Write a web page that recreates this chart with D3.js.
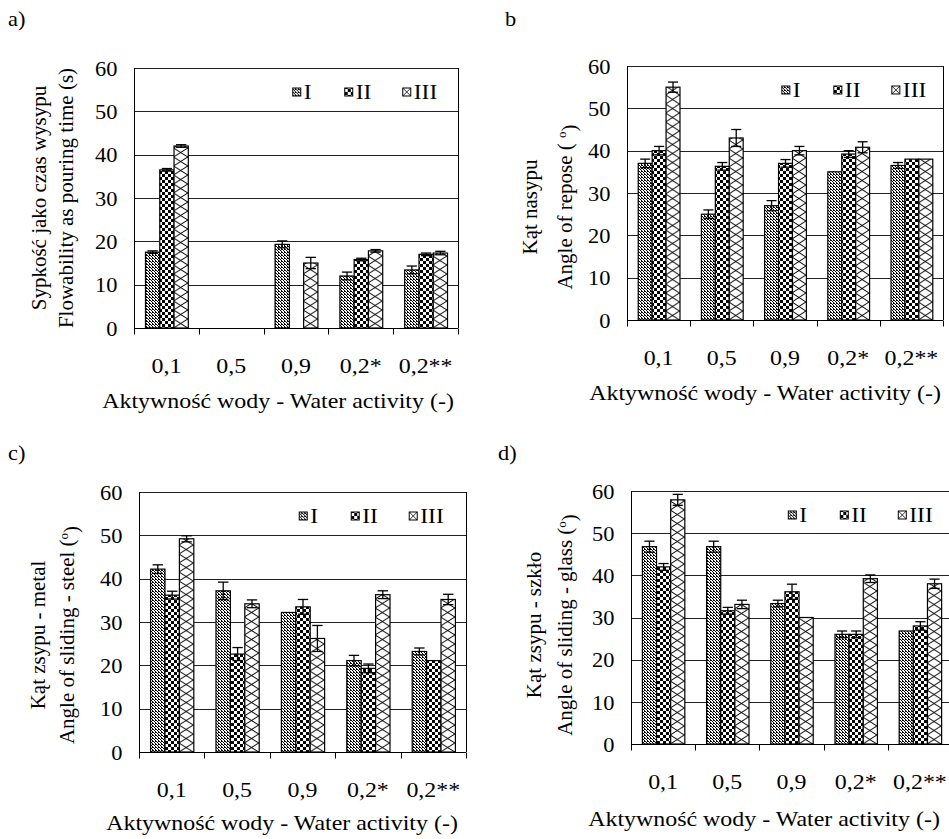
<!DOCTYPE html>
<html><head><meta charset="utf-8">
<script src="https://cdn.jsdelivr.net/npm/d3@7"></script>
<style>
html,body{margin:0;padding:0;background:#fff;}
svg text{font-family:"Liberation Serif","Times New Roman","DejaVu Serif",serif !important;fill:#000;}
</style></head>
<body><svg id="c" width="949" height="839"></svg>
<script>
const categories = ["0,1","0,5","0,9","0,2*","0,2**"];
const seriesNames = ["I","II","III"];
const yTicks = [0,10,20,30,40,50,60];

// a) flowability as pouring time (s)
const aI = [17.5, null, 19.3, 12.0, 13.4];
const aII = [36.5, null, null, 15.8, 17.0];
const aIII = [42.0, null, 15.0, 17.8, 17.3];
const aIErr = [0.3, 0, 0.8, 0.9, 0.9];
const aIIErr = [0.3, 0, 0, 0.3, 0.3];
const aIIIErr = [0.3, 0, 1.3, 0.3, 0.4];

// b) angle of repose
const bI = [37.0, 25.0, 27.0, 35.0, 36.5];
const bII = [40.0, 36.3, 37.0, 39.2, 38.0];
const bIII = [55.0, 43.0, 40.0, 40.8, 38.0];
const bIErr = [1.0, 1.0, 1.2, 0, 0.7];
const bIIErr = [1.0, 0.9, 0.9, 0.8, 0];
const bIIIErr = [1.2, 2.0, 1.0, 1.3, 0];

// c) angle of sliding - steel
const cI = [42.2, 37.2, 32.2, 21.1, 23.2];
const cII = [36.2, 22.6, 33.5, 19.3, 21.1];
const cIII = [49.2, 34.2, 26.2, 36.3, 35.2];
const cIErr = [1.0, 2.0, 0, 1.2, 0.8];
const cIIErr = [0.9, 1.5, 1.7, 1.0, 0];
const cIIIErr = [0.7, 0.9, 3.0, 0.9, 1.2];

// d) angle of sliding - glass
const dI = [46.8, 46.8, 33.3, 26.0, 26.8];
const dII = [42.0, 31.6, 36.1, 26.0, 28.0];
const dIII = [57.9, 33.1, 30.0, 39.2, 38.0];
const dIErr = [1.3, 1.3, 0.8, 0.8, 0];
const dIIErr = [0.8, 0.8, 1.8, 0.8, 1.0];
const dIIIErr = [1.3, 1.0, 0, 0.9, 1.1];

const panels = [
  {id:"a", tag:"a)", tagX:8, tagY:26, L:134, R:458, T:68, B:328,
   vals:[aI,aII,aIII], errs:[aIErr,aIIErr,aIIIErr],
   yTitle:["Sypkość jako czas wysypu","Flowability as pouring time (s)"], deg:false,
   titleX:[46,73], titleY:198, xTitleX:278, xTitleY:408},
  {id:"b", tag:"b", tagX:505, tagY:26, L:627, R:943, T:66, B:320,
   vals:[bI,bII,bIII], errs:[bIErr,bIIErr,bIIIErr],
   yTitle:["Kąt nasypu","Angle of repose ( "], deg:true,
   titleX:[537,572], titleY:207, xTitleX:765, xTitleY:400},
  {id:"c", tag:"c)", tagX:8, tagY:460, L:139, R:466, T:492, B:752,
   vals:[cI,cII,cIII], errs:[cIErr,cIIErr,cIIIErr],
   yTitle:["Kąt zsypu - metal","Angle of sliding - steel ("], deg:true,
   titleX:[45,74], titleY:635, xTitleX:282, xTitleY:830},
  {id:"d", tag:"d)", tagX:498, tagY:460, L:631, R:952, T:491, B:744,
   vals:[dI,dII,dIII], errs:[dIErr,dIIErr,dIIIErr],
   yTitle:["Kąt zsypu - szkło","Angle of sliding - glass ("], deg:true,
   titleX:[541,572], titleY:625, xTitleX:764, xTitleY:826}
];

const svg = d3.select("#c");
const defs = svg.append("defs");

// pattern I: fine stipple
const pI = defs.append("pattern").attr("id","patI").attr("patternUnits","userSpaceOnUse")
  .attr("width",3).attr("height",3);
pI.append("rect").attr("width",3).attr("height",3).attr("fill","#fff");
[[0,0],[1,1],[2,2],[2,0]].forEach(([px,py])=>
  pI.append("rect").attr("x",px).attr("y",py).attr("width",1).attr("height",1).attr("fill","#000"));
// pattern II: checkerboard
const pII = defs.append("pattern").attr("id","patII").attr("patternUnits","userSpaceOnUse")
  .attr("width",6).attr("height",6);
pII.append("rect").attr("width",6).attr("height",6).attr("fill","#fff");
pII.append("rect").attr("x",0).attr("y",0).attr("width",3).attr("height",3).attr("fill","#000");
pII.append("rect").attr("x",3).attr("y",3).attr("width",3).attr("height",3).attr("fill","#000");

const fontTick = 20, fontXTick = 21, fontTitle = 21, sx = 1.12, sxTitle = 1.14;

panels.forEach((p, pi) => {
  const g = svg.append("g");
  const y = d3.scaleLinear().domain([0,60]).range([p.B, p.T]);
  const x = d3.scaleBand().domain(categories).range([p.L, p.R]).paddingInner(0).paddingOuter(0);
  const xs = d3.scaleBand().domain(seriesNames).range([0, x.bandwidth()]).paddingInner(0).paddingOuter(0.77);
  const bw = xs.bandwidth();

  // gridlines
  g.append("g").selectAll("line").data(yTicks.filter(t=>t>0)).join("line")
    .attr("x1",p.L).attr("x2",p.R).attr("y1",d=>Math.round(y(d))+0.5).attr("y2",d=>Math.round(y(d))+0.5)
    .attr("stroke","#222").attr("stroke-width",1);
  // right border
  g.append("line").attr("x1",p.R+0.5).attr("x2",p.R+0.5).attr("y1",Math.round(p.T)).attr("y2",p.B)
    .attr("stroke","#000");

  // per-bar hatch patterns for III
  categories.forEach((c, ci) => {
    const bx = x(c) + xs("III");
    const pat = defs.append("pattern").attr("id",`patIII_${p.id}_${ci}`).attr("patternUnits","userSpaceOnUse")
      .attr("x",bx).attr("y",p.B).attr("width",bw).attr("height",9);
    pat.append("rect").attr("width",bw).attr("height",9).attr("fill","#fff");
    pat.append("path").attr("d",`M0,0L${bw},9M${bw},0L0,9`).attr("stroke","#000").attr("stroke-width",1).attr("fill","none");
  });

  const fills = ["url(#patI)","url(#patII)",null];
  seriesNames.forEach((s, si) => {
    const vals = p.vals[si], errs = p.errs[si];
    const data = categories.map((c,ci)=>({c,ci,v:vals[ci],e:errs[ci]})).filter(d=>d.v!=null);
    g.append("g").selectAll("rect").data(data).join("rect")
      .attr("x",d=>x(d.c)+xs(s)+0.5).attr("y",d=>y(d.v))
      .attr("width",bw).attr("height",d=>p.B - y(d.v))
      .attr("fill",d=> si===2 ? `url(#patIII_${p.id}_${d.ci})` : fills[si])
      .attr("stroke","#000").attr("stroke-width",1.2);
    const eg = g.append("g").attr("stroke","#000").attr("stroke-width",1.3);
    data.filter(d=>d.e>0).forEach(d=>{
      const cx = x(d.c)+xs(s)+bw/2+0.5;
      const hw = bw*0.36;
      eg.append("line").attr("x1",cx).attr("x2",cx).attr("y1",y(d.v+d.e)).attr("y2",y(d.v-d.e));
      eg.append("line").attr("x1",cx-hw).attr("x2",cx+hw).attr("y1",y(d.v+d.e)).attr("y2",y(d.v+d.e));
      eg.append("line").attr("x1",cx-hw).attr("x2",cx+hw).attr("y1",y(d.v-d.e)).attr("y2",y(d.v-d.e));
    });
  });

  // y axis
  const ya = g.append("g").attr("transform",`translate(${p.L+0.5},0)`)
    .call(d3.axisLeft(y).tickValues(yTicks).tickSize(0).tickPadding(17).tickFormat(d3.format("d")));
  ya.attr("font-family",null).attr("font-size",null);
  ya.select(".domain").attr("stroke","#000").attr("d",`M0,${p.T}V${p.B}`);
  ya.selectAll(".tick text").attr("x",null).attr("dy","0.36em").style("font-size",fontTick+"px")
    .attr("transform",`translate(-17,0) scale(${sx},1)`);

  // x axis
  const xa = g.append("g").attr("transform",`translate(0,${p.B+0.5})`)
    .call(d3.axisBottom(x).tickSize(0).tickPadding(0));
  xa.attr("font-family",null).attr("font-size",null);
  xa.select(".domain").attr("stroke","#000").attr("d",`M${p.L},0H${Math.min(p.R,949)}`);
  xa.selectAll(".tick text").attr("y",null).attr("dy",null)
    .attr("transform",`translate(0,44) scale(${sxTitle},1)`).style("font-size",fontXTick+"px");
  const bounds = categories.map(c=>x(c)).concat([p.R]);
  xa.append("g").selectAll("line").data(bounds).join("line")
    .attr("x1",d=>Math.round(d)+0.5).attr("x2",d=>Math.round(d)+0.5).attr("y1",0).attr("y2",6).attr("stroke","#000");

  // legend
  const lg = g.append("g").attr("transform",`translate(${p.L + (p.R-p.L)*0.49},${p.T+24})`);
  const legOff = [0, 52, 110];
  seriesNames.forEach((s,si)=>{
    const item = lg.append("g").attr("transform",`translate(${legOff[si]},0)`);
    let fill = si===0 ? "url(#patI)" : si===1 ? "url(#patII)" : "#fff";
    item.append("rect").attr("x",0).attr("y",-4).attr("width",8).attr("height",8)
      .attr("fill",fill).attr("stroke","#000").attr("stroke-width",1);
    if (si===2) {
      item.append("path").attr("d","M0,-4L8,4M8,-4L0,4").attr("stroke","#000").attr("stroke-width",0.8);
    }
    item.append("text").attr("transform",`translate(11,0) scale(${sx},1)`).attr("dy","0.35em")
      .style("font-size",fontTitle+"px").text(s);
  });

  // panel tag
  svg.append("text").attr("transform",`translate(${p.tagX},${p.tagY}) scale(${sx},1)`)
    .style("font-size",fontTick+"px").text(p.tag);

  // y title (two lines)
  p.yTitle.forEach((t,li)=>{
    const tx = svg.append("text").attr("transform",`translate(${p.titleX[li]},${p.titleY}) rotate(-90)`)
      .attr("text-anchor","middle").style("font-size",fontTitle+"px");
    if (li===1 && p.deg) {
      tx.append("tspan").text(t);
      tx.append("tspan").attr("dy","-0.5em").style("font-size","13px").text("o");
      tx.append("tspan").attr("dy","0.5em").text(")");
    } else tx.text(t);
  });
  // x title
  svg.append("text").attr("transform",`translate(${p.xTitleX},${p.xTitleY}) scale(${sxTitle},1)`).attr("text-anchor","middle")
    .style("font-size",fontTitle+"px").text("Aktywność wody - Water activity (-)");
});
</script></body></html>
